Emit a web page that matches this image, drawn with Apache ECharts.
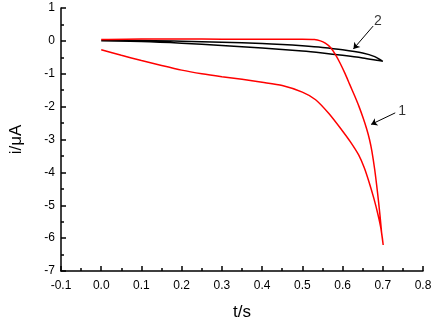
<!DOCTYPE html>
<html style="height: 100%">
<head>
    <meta charset="utf-8">
    <title>i-t</title>
    <style>
        body { margin: 0; height: 100%; background: #fff; }
        #main { width: 435px; height: 326px; }
    </style>
</head>
<body>
<div id="main"></div>
<script src="https://cdn.jsdelivr.net/npm/echarts@6/dist/echarts.min.js"></script>
<script>
    // curve 1 (red): forward branch, then return branch
    const curve1T = [0, 0.1, 0.2, 0.3, 0.4, 0.5, 0.53, 0.545, 0.557, 0.57, 0.582, 0.594, 0.606, 0.618, 0.63, 0.641, 0.651, 0.66, 0.667, 0.673, 0.68, 0.687, 0.693, 0.697, 0.699,
        0.701, 0.695, 0.688, 0.678, 0.666, 0.654, 0.64, 0.62, 0.598, 0.566, 0.533, 0.5, 0.45, 0.4, 0.35, 0.3, 0.25, 0.2, 0.15, 0.1, 0.05, 0];
    const curve1I = [0.04, 0.06, 0.06, 0.05, 0.05, 0.05, 0.04, 0.0, -0.07, -0.2, -0.41, -0.68, -0.99, -1.33, -1.67, -2.0, -2.34, -2.68, -3.0, -3.36, -3.92, -4.62, -5.3, -5.82, -6.0,
        -6.21, -5.68, -5.28, -4.8, -4.3, -3.86, -3.47, -3.08, -2.71, -2.21, -1.79, -1.56, -1.36, -1.26, -1.17, -1.09, -1.0, -0.89, -0.75, -0.6, -0.44, -0.27];

    // curve 2 (black)
    const curve2T = [0, 0.1, 0.2, 0.3, 0.4, 0.45, 0.5, 0.55, 0.6, 0.65, 0.68, 0.7,
        0.69, 0.65, 0.6, 0.55, 0.5, 0.4, 0.3, 0.2, 0.1, 0];
    const curve2I = [0.01, 0.01, -0.01, -0.04, -0.08, -0.11, -0.15, -0.2, -0.27, -0.37, -0.48, -0.62,
        -0.6, -0.52, -0.44, -0.37, -0.31, -0.22, -0.14, -0.07, -0.02, 0.0];

    // labels and arrows (data coordinates)
    const labelNames = ['1', '2'];
    const labelPos = [[0.748, -2.13], [0.688, 0.6]];
    const arrowFrom = [[0.731, -2.19], [0.676, 0.45]];
    const arrowTo = [[0.671, -2.54], [0.627, -0.245]];

    const zip = (a, b) => a.map((v, i) => [v, b[i]]);

    const chart = echarts.init(document.getElementById('main'));
    const font = 'Liberation Sans, Arial, sans-serif';

    chart.setOption({
        animation: false,
        grid: { left: 52, right: 12, top: 8, bottom: 42 },
        xAxis: {
            type: 'value', min: -0.1, max: 0.8, interval: 0.1,
            name: 't/s', nameLocation: 'middle', nameGap: 33,
            nameTextStyle: { fontFamily: font, fontSize: 17, color: '#000' },
            axisLine: { onZero: false, lineStyle: { color: '#000', width: 1.5 } },
            axisTick: { inside: true, length: 5, lineStyle: { color: '#000', width: 1.5 } },
            minorTick: { show: true, splitNumber: 2, length: 3, lineStyle: { color: '#000', width: 1.5 } },
            splitLine: { show: false },
            axisLabel: { fontFamily: font, fontSize: 12, color: '#000', margin: 9, formatter: v => v.toFixed(1) }
        },
        yAxis: {
            type: 'value', min: -7, max: 1, interval: 1,
            name: 'i/\u03bcA', nameLocation: 'middle', nameGap: 36,
            nameTextStyle: { fontFamily: font, fontSize: 17, color: '#000' },
            axisLine: { show: true, onZero: false, lineStyle: { color: '#000', width: 1.5 } },
            axisTick: { show: true, inside: true, length: 5, lineStyle: { color: '#000', width: 1.5 } },
            minorTick: { show: true, splitNumber: 2, length: 3, lineStyle: { color: '#000', width: 1.5 } },
            splitLine: { show: false },
            axisLabel: { fontFamily: font, fontSize: 12, color: '#000', margin: 6 }
        },
        series: [
            {
                type: 'line', data: zip(curve2T, curve2I), showSymbol: false, smooth: 0.3,
                lineStyle: { color: '#000', width: 1.5 }
            },
            {
                type: 'line', data: zip(curve1T, curve1I), showSymbol: false, smooth: 0.25,
                lineStyle: { color: '#ff0000', width: 1.5 }
            },
            {
                type: 'scatter', symbolSize: 0, data: labelPos,
                label: {
                    show: true, position: 'inside', fontFamily: font, fontSize: 14, color: '#000',
                    formatter: p => labelNames[p.dataIndex]
                },
                markLine: {
                    silent: true, symbol: ['none', 'arrow'], symbolSize: 6,
                    label: { show: false },
                    lineStyle: { color: '#000', width: 1, type: 'solid' },
                    data: arrowFrom.map((f, i) => [{ coord: f }, { coord: arrowTo[i] }])
                }
            }
        ]
    });
</script>
</body>
</html>
